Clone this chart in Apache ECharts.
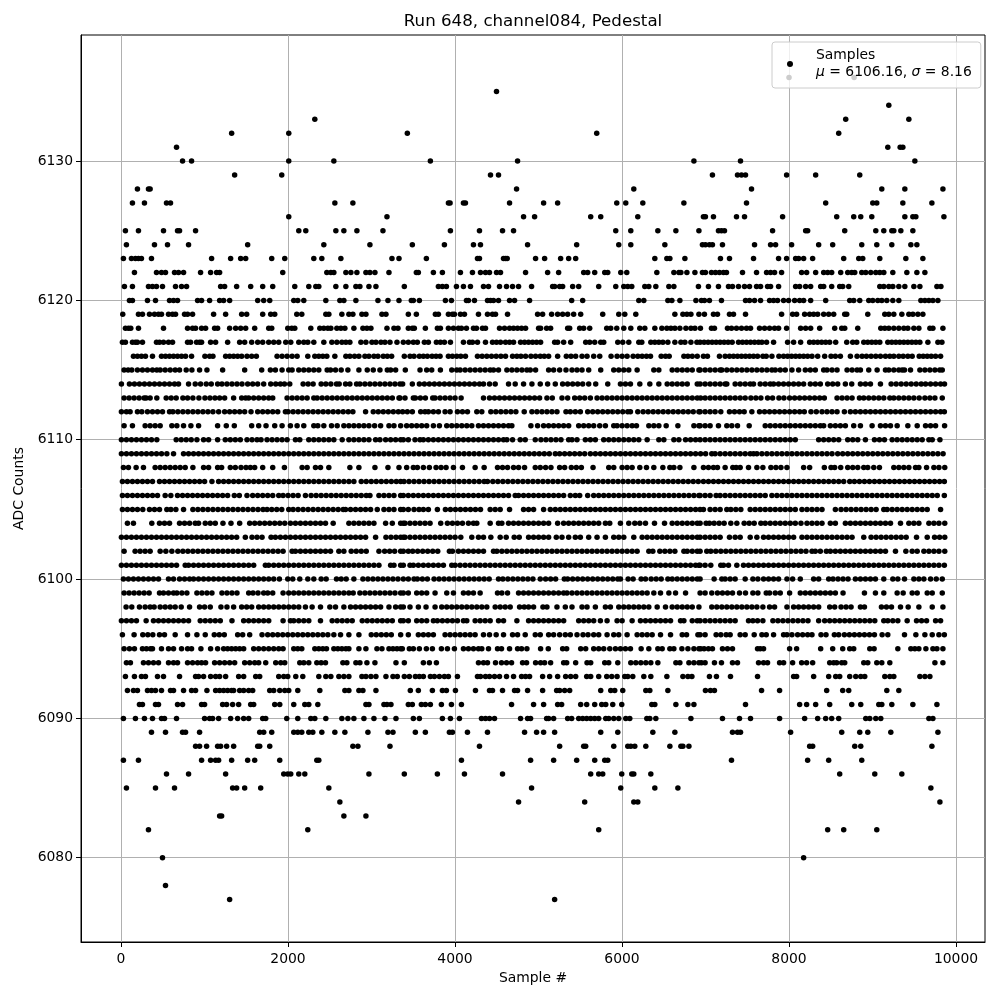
<!DOCTYPE html>
<html><head><meta charset="utf-8"><title>Pedestal</title>
<script src="https://cdn.jsdelivr.net/npm/echarts@6/dist/echarts.min.js"></script>
<style>html,body{margin:0;padding:0;background:#fff}#c{width:1000px;height:1000px}</style></head>
<body><div id="c"></div><script>
const xTicks=[0,2000,4000,6000,8000,10000];
const yTicks=[6080,6090,6100,6110,6120,6130];
const titleText='Run 648, channel084, Pedestal';
const c6136=[8000,8780];
const c6135=[4497];
const c6134=[9195];
const c6133=[2321,8679,9435];
const c6132=[1325,2009,3429,5697,8595];
const c6131=[665,9183,9331,9363];
const c6130=[737,845,2009,2549,3705,4749,6861,7419,9507];
const c6129=[1361,1925,4425,4521,7083,7383,7431,7479,7971,8319,8847];
const c6128=[197,329,349,4737,6141,7551,9111,9387,9843];
const c6127=[137,281,545,593,2561,2777,3921,3941,4101,4125,4653,5061,5229,5937,6045,6249,6741,7491,8439,9003,9051,9363,9711];
const c6126=[2009,3185,4821,4953,5625,5745,6189,6975,6999,7095,7371,7467,7923,8571,8775,8859,8991,9387,9483,9519,9855];
const c6125=[53,209,509,677,701,893,2129,2213,2573,2669,2825,3137,3945,4293,4569,4701,5925,6105,6429,6645,6921,7155,7191,7227,7803,8199,8223,8667,9039,9135,9231,9255,9339,9483];
const c6124=[65,401,557,809,1517,2429,2981,3489,3873,4221,4305,4869,5457,5961,6105,6513,6963,6999,7047,7083,7203,7587,7779,7839,8031,8355,8523,8871,9051,9231,9459,9531];
const c6123=[29,125,173,209,245,365,1085,1313,1433,1493,1805,1961,2309,2405,2633,3245,3329,3657,4269,4293,4581,4605,4625,4965,5073,5265,5361,5445,6393,6537,6573,6753,7179,7287,7575,7875,7971,8079,8115,8175,8283,8655,8835,8883,9087,9399,9603];
const c6122=[161,425,485,533,641,689,749,953,1073,1145,1181,1937,2465,2513,2549,2693,2753,2825,2933,2981,3041,3209,3537,3561,3741,3849,4065,4209,4305,4365,4413,4497,4545,4845,5109,5241,5541,5589,5673,5793,5829,5985,6057,6417,6621,6681,6705,6777,6873,6963,6999,7071,7119,7167,7215,7251,7443,7611,7731,7779,7827,7911,8151,8211,8319,8415,8463,8511,8619,8703,8751,8787,8871,8919,8979,9039,9087,9135,9243,9411,9531,9627];
const c6121=[41,137,329,377,425,497,653,725,785,1193,1241,1385,1553,1697,1817,2081,2249,2333,2369,2573,2693,2813,2861,2969,3053,3393,3801,3849,3897,4017,4101,4185,4341,4401,4533,4617,4689,4761,4917,5169,5193,5253,5289,5409,5481,5721,5925,6021,6069,6117,6273,6321,6405,6561,6621,6915,7035,7155,7275,7323,7395,7467,7527,7611,7659,7743,7779,7875,8079,8127,8199,8259,8379,8415,8511,8607,8643,8715,9087,9135,9195,9243,9315,9387,9495,9567,9771,9819];
const c6120=[101,137,317,413,581,629,677,917,965,1061,1181,1229,1301,1637,1709,1781,2069,2117,2189,2453,2621,2669,2813,3077,3197,3329,3477,3501,3573,3885,3957,4137,4161,4233,4389,4425,4461,4521,4653,4713,4893,5397,5529,6201,6261,6549,6597,6693,6885,6951,6987,7047,7191,7479,7527,7587,7659,7767,7815,7863,7935,7995,8067,8127,8175,8259,8439,8727,8775,8847,8955,9003,9063,9111,9171,9243,9315,9579,9627,9675,9723,9783];
const c6119=[21,209,257,341,401,449,485,569,617,653,761,797,857,1109,1253,1445,1505,1697,1793,1841,2105,2165,2453,2489,2645,2729,2777,2885,2933,3125,3173,3441,3537,3765,3801,3921,3969,3993,4065,4113,4281,4389,4449,4485,4629,4989,5049,5157,5229,5289,5349,5421,5505,5769,5961,6033,6165,6633,6729,6777,6825,6921,6987,7095,7143,7287,7335,7479,7911,8043,8091,8187,8247,8295,8343,8415,8475,8535,8667,8691,8943,9147,9195,9255,9351,9435,9483,9543,9603];
const c6118=[53,89,117,209,509,797,857,893,965,1013,1121,1157,1301,1373,1433,1493,1601,1769,1805,1997,2045,2081,2273,2381,2429,2477,2513,2585,2633,2681,2789,2897,2945,2993,3185,3269,3317,3441,3489,3513,3645,3789,3825,3921,3981,4041,4077,4137,4221,4257,4329,4365,4533,4593,4653,4701,4749,4797,4845,5001,5025,5097,5145,5349,5373,5493,5541,5613,5817,5865,5937,6021,6105,6213,6273,6393,6477,6537,6585,6633,6693,6765,6825,6873,6939,7071,7107,7263,7311,7371,7431,7491,7539,7647,7707,7767,7827,7875,7971,8139,8199,8259,8367,8547,8631,8667,8823,9099,9147,9195,9255,9315,9375,9423,9495,9555,9687,9723,9843];
const c6117=[17,53,137,173,197,257,425,461,509,569,617,797,833,905,941,965,1073,1133,1277,1421,1481,1565,1637,1697,1769,1829,1889,1973,2033,2129,2189,2237,2309,2429,2525,2585,2645,2693,2741,2873,2933,3005,3053,3113,3161,3221,3305,3381,3441,3501,3549,3633,3681,3777,3825,3873,3945,4101,4173,4209,4269,4365,4449,4497,4545,4605,4653,4701,4785,4833,4881,4929,4977,5025,5193,5229,5301,5385,5565,5613,5673,5745,5781,5949,6009,6081,6201,6237,6345,6393,6441,6489,6549,6633,6705,6753,6825,6897,6935,6983,7031,7079,7127,7175,7223,7271,7319,7395,7443,7491,7539,7587,7635,7675,7731,7815,7983,8055,8139,8247,8295,8343,8391,8439,8487,8559,8691,8763,8811,8895,8943,8991,9039,9087,9183,9231,9279,9327,9375,9423,9471,9519,9567,9663,9783,9831];
const c6116=[149,197,245,293,377,485,533,581,629,677,725,773,845,1005,1061,1101,1253,1301,1349,1397,1445,1509,1565,1621,1869,1929,1989,2049,2109,2237,2321,2369,2417,2465,2561,2693,2741,2797,2849,2921,2969,3029,3077,3141,3189,3241,3393,3461,3509,3573,3621,3669,3725,3773,3821,3921,3969,4021,4069,4125,4269,4325,4381,4437,4493,4549,4605,4689,4741,4789,4845,4909,4965,5021,5069,5121,5229,5333,5389,5445,5521,5581,5661,5733,5869,5941,6001,6061,6133,6189,6241,6293,6341,6469,6521,6565,6741,6789,6841,6901,6975,7023,7167,7235,7287,7335,7383,7431,7479,7527,7575,7623,7687,7727,7795,7879,7935,7983,8031,8079,8127,8175,8223,8275,8343,8427,8503,8555,8615,8735,8815,8875,8927,8983,9039,9095,9155,9207,9255,9315,9367,9423,9475,9559,9607,9655,9703,9755,9815];
const c6115=[37,85,129,197,257,317,377,429,469,529,589,649,701,781,849,941,1029,1217,1481,1685,1789,1849,1929,2009,2049,2129,2189,2249,2309,2369,2469,2509,2569,2637,2717,2849,2949,3021,3101,3189,3229,3289,3405,3581,3661,3721,3825,3961,4021,4061,4121,4181,4241,4301,4361,4421,4461,4521,4621,4681,4741,4801,4861,4901,4965,5121,5181,5253,5329,5401,5461,5521,5601,5745,5901,5961,6021,6081,6181,6381,6441,6601,6661,6721,6781,6841,6921,6935,6995,7055,7115,7175,7195,7255,7315,7375,7435,7495,7555,7615,7675,7735,7795,7835,7895,7955,8035,8115,8195,8255,8315,8415,8455,8515,8575,8695,8755,8815,8855,8955,9055,9155,9195,9255,9315,9355,9383,9455,9567,9627,9687,9747,9805,9835];
const c6114=[5,101,161,221,281,341,401,461,521,581,641,689,809,889,953,1021,1081,1157,1209,1269,1329,1389,1449,1517,1577,1637,1709,1793,1853,1909,1957,2021,2181,2241,2301,2397,2453,2513,2581,2613,2689,2741,2821,2861,2921,2981,3041,3101,3161,3221,3281,3341,3373,3489,3573,3633,3693,3753,3813,3873,3933,3993,4053,4113,4173,4233,4293,4341,4413,4481,4641,4721,4821,4921,5021,5109,5201,5289,5349,5409,5469,5529,5601,5685,5829,5981,6041,6101,6213,6333,6441,6541,6601,6661,6721,6781,6901,6935,6995,7055,7115,7175,7235,7255,7355,7415,7475,7535,7575,7655,7715,7775,7815,7875,7935,7995,8055,8115,8175,8255,8315,8375,8463,8523,8583,8675,8751,8855,8915,8975,9095,9223,9283,9343,9403,9463,9523,9583,9635,9695,9755,9815,9862];
const c6113=[37,97,157,217,277,301,349,429,541,601,661,741,797,861,933,1005,1065,1125,1181,1241,1349,1445,1493,1529,1589,1649,1709,1769,1817,1989,2049,2109,2169,2229,2309,2349,2409,2469,2529,2589,2649,2709,2769,2829,2889,2949,3009,3069,3129,3189,3249,3329,3341,3401,3501,3525,3585,3645,3733,3761,3821,3881,3941,4001,4073,4341,4413,4473,4533,4593,4653,4713,4773,4833,4893,4953,5013,5101,5165,5281,5349,5433,5493,5553,5621,5701,5761,5821,5881,5941,6001,6061,6121,6181,6241,6301,6361,6421,6481,6541,6601,6661,6721,6781,6841,6901,6941,6995,7055,7115,7175,7235,7295,7355,7415,7475,7543,7603,7663,7743,7803,7879,7939,8007,8067,8127,8187,8247,8307,8367,8423,8575,8635,8695,8755,8843,8895,8955,9015,9075,9135,9207,9255,9315,9375,9435,9495,9559,9627,9687,9747,9835];
const c6112=[5,65,109,197,249,317,377,437,497,581,621,681,741,801,861,921,981,1041,1101,1169,1241,1301,1361,1421,1481,1557,1637,1697,1757,1817,1877,1969,2001,2061,2121,2181,2241,2301,2361,2421,2481,2541,2601,2661,2721,2777,2929,3021,3081,3141,3201,3261,3321,3373,3429,3489,3589,3641,3681,3741,3801,3881,3941,4029,4089,4149,4261,4321,4429,4489,4549,4609,4669,4729,4829,4921,4981,5041,5101,5161,5221,5329,5381,5441,5501,5589,5649,5709,5769,5829,5889,5949,6009,6069,6101,6189,6253,6313,6373,6433,6493,6553,6613,6673,6733,6793,6853,6921,6935,6995,7055,7115,7183,7287,7347,7407,7463,7555,7647,7707,7767,7827,7887,7947,8007,8067,8127,8183,8263,8327,8395,8455,8515,8575,8663,8735,8795,8855,8915,8975,9035,9095,9155,9215,9275,9335,9395,9455,9515,9575,9635,9695,9755,9815,9860];
const c6111=[37,137,289,349,409,469,609,669,749,837,929,1157,1261,1357,1565,1649,1737,1841,1929,2029,2109,2189,2309,2357,2429,2521,2589,2669,2729,2789,2849,2909,2969,3037,3109,3209,3269,3349,3421,3481,3541,3601,3661,3741,3813,3901,3961,4021,4081,4141,4201,4281,4341,4401,4461,4521,4581,4641,4681,4909,4989,5061,5121,5181,5241,5301,5361,5481,5541,5601,5661,5733,5801,5901,5941,6001,6061,6121,6173,6321,6381,6441,6529,6669,6861,6921,6935,6995,7055,7155,7255,7315,7383,7523,7715,7775,7835,7895,7955,8015,8075,8135,8195,8255,8315,8375,8415,8495,8555,8615,8675,8775,8855,8995,9095,9155,9215,9295,9423,9535,9635,9695,9755,9863];
const c6110=[5,65,125,185,245,305,365,429,661,721,781,841,909,989,1049,1157,1249,1309,1369,1429,1509,1569,1629,1677,1749,1809,1869,1929,1989,2089,2141,2249,2309,2369,2429,2489,2549,2649,2729,2789,2849,2909,2969,3049,3101,3169,3229,3289,3349,3381,3441,3521,3581,3621,3681,3741,3801,3861,3921,3981,4041,4101,4161,4221,4281,4341,4401,4461,4521,4581,4621,4689,4781,4841,4961,5029,5089,5149,5209,5269,5361,5401,5461,5561,5621,5681,5781,5841,5901,5961,6021,6081,6141,6201,6301,6441,6501,6621,6681,6761,6821,6881,6935,6995,7055,7115,7175,7235,7295,7355,7415,7475,7535,7595,7655,7715,7775,7835,7895,7955,8015,8075,8355,8415,8475,8535,8595,8703,8763,8823,8915,9023,9083,9143,9235,9295,9355,9415,9475,9535,9595,9675,9715,9807];
const c6109=[5,65,125,185,245,305,365,425,485,549,629,749,809,869,929,989,1049,1109,1169,1229,1289,1349,1409,1469,1529,1589,1649,1709,1769,1829,1889,1949,2009,2069,2129,2189,2249,2309,2369,2429,2489,2549,2609,2669,2729,2789,2849,2909,2969,3029,3089,3149,3209,3269,3329,3389,3449,3509,3569,3629,3689,3749,3809,3869,3929,3989,4049,4109,4169,4229,4289,4349,4409,4469,4529,4589,4649,4709,4769,4829,4889,4949,5009,5069,5129,5201,5253,5313,5373,5433,5493,5553,5621,5681,5741,5801,5861,5921,5981,6041,6101,6161,6221,6281,6341,6401,6461,6521,6581,6641,6701,6761,6821,6881,6941,7001,7075,7115,7175,7235,7295,7355,7415,7475,7535,7575,7615,7675,7735,7795,7855,7915,7975,8035,8095,8155,8215,8275,8335,8395,8455,8515,8583,8643,8703,8763,8823,8883,8943,9003,9063,9123,9183,9243,9303,9363,9423,9483,9543,9603,9663,9723,9783,9845];
const c6108=[29,89,181,269,409,469,529,589,649,709,769,861,989,1049,1157,1205,1309,1369,1437,1497,1549,1601,1697,1817,1957,2169,2229,2329,2389,2489,2741,2849,3041,3197,3329,3421,3501,3549,3621,3693,3773,3833,3893,3981,4089,4241,4349,4509,4569,4629,4701,4761,4833,4961,5021,5085,5149,5253,5313,5393,5453,5513,5653,5841,5901,6001,6061,6121,6213,6293,6381,6489,6573,6621,6693,6861,6975,7035,7095,7143,7235,7327,7367,7415,7515,7615,7687,7783,7843,7903,7975,8175,8247,8423,8503,8547,8619,8703,8763,8823,8895,8943,9015,9083,9255,9315,9375,9435,9515,9555,9647,9735,9795,9865];
const c6107=[17,77,137,197,257,317,377,461,521,581,641,701,761,821,881,941,1001,1089,1169,1229,1289,1349,1409,1469,1529,1589,1649,1709,1769,1829,1889,1949,2009,2069,2129,2189,2249,2309,2369,2429,2489,2549,2609,2669,2729,2789,2877,2937,2997,3057,3117,3177,3237,3297,3349,3389,3449,3509,3569,3629,3689,3749,3809,3869,3929,3989,4049,4109,4169,4229,4289,4349,4389,4453,4513,4573,4633,4693,4753,4813,4873,4933,4993,5053,5113,5173,5233,5293,5353,5413,5473,5533,5593,5653,5713,5773,5833,5893,5953,6013,6073,6133,6193,6253,6313,6373,6433,6493,6553,6613,6673,6733,6793,6853,6913,6975,7035,7095,7155,7215,7275,7335,7395,7455,7515,7575,7635,7695,7755,7815,7875,7935,7995,8055,8115,8175,8235,8295,8355,8415,8475,8535,8595,8655,8727,8783,8843,8903,8963,9023,9083,9143,9203,9263,9323,9383,9443,9503,9563,9623,9683,9743,9803,9860];
const c6106=[17,77,137,197,257,317,377,437,529,597,677,737,797,857,917,977,1037,1097,1157,1217,1277,1357,1417,1509,1577,1637,1697,1757,1817,1889,1941,2001,2061,2121,2209,2277,2337,2397,2457,2517,2577,2637,2697,2757,2817,2877,2937,2981,3089,3149,3209,3269,3349,3381,3441,3501,3561,3621,3681,3741,3801,3861,3921,3981,4041,4101,4161,4221,4281,4341,4401,4461,4521,4581,4641,4721,4761,4821,4881,4941,5001,5061,5121,5181,5241,5301,5381,5441,5493,5589,5661,5721,5781,5841,5901,5961,6021,6081,6141,6201,6261,6321,6381,6441,6501,6561,6621,6681,6741,6801,6861,6921,6935,6995,7055,7127,7175,7235,7295,7355,7415,7475,7535,7595,7655,7715,7795,7855,7915,7975,8035,8095,8155,8215,8275,8335,8395,8455,8515,8575,8635,8695,8755,8815,8875,8935,8995,9055,9115,9175,9235,9295,9355,9415,9475,9535,9595,9655,9715,9775,9860];
const c6105=[17,77,137,197,261,341,401,461,549,597,657,749,861,921,981,1041,1101,1161,1221,1281,1341,1401,1461,1521,1581,1641,1701,1749,1805,1865,1925,2009,2061,2121,2181,2241,2301,2361,2421,2481,2541,2601,2661,2689,2749,2809,2869,2929,2989,3069,3149,3209,3269,3349,3381,3441,3509,3569,3621,3681,3789,3885,3945,4005,4065,4125,4185,4245,4305,4421,4481,4541,4653,4821,4881,4941,5061,5141,5201,5261,5321,5381,5441,5501,5561,5621,5681,5741,5801,5861,5921,5981,6041,6101,6161,6221,6281,6341,6401,6461,6521,6581,6641,6701,6761,6821,6881,6935,6975,7055,7115,7175,7255,7303,7363,7423,7535,7595,7655,7715,7775,7835,7895,7955,8015,8075,8155,8215,8275,8335,8395,8555,8623,8683,8743,8803,8863,8923,8983,9043,9135,9175,9235,9295,9355,9415,9475,9535,9595,9655,9815];
const c6104=[77,149,369,461,521,581,701,761,821,889,929,1009,1069,1129,1221,1317,1421,1541,1601,1661,1721,1781,1841,1901,1961,2029,2089,2149,2209,2269,2329,2389,2449,2541,2729,2789,2849,2909,2969,3029,3169,3249,3349,3381,3401,3461,3521,3581,3641,3701,3829,3909,3969,4029,4089,4161,4221,4261,4421,4521,4561,4641,4701,4761,4821,4881,4941,5001,5061,5121,5229,5301,5361,5421,5481,5541,5601,5661,5721,5801,5853,5981,6081,6153,6213,6281,6389,6509,6601,6661,6721,6781,6841,6901,6935,7007,7047,7103,7163,7223,7303,7375,7463,7523,7583,7663,7715,7775,7835,7895,7955,8015,8075,8143,8215,8275,8335,8395,8495,8555,8675,8735,8795,8855,8915,8975,9035,9095,9155,9215,9335,9435,9495,9555,9675,9735,9795,9865];
const c6103=[5,65,125,185,245,305,365,425,485,545,605,665,725,785,845,905,965,1025,1085,1145,1205,1265,1325,1385,1489,1569,1629,1689,1797,1849,1909,1969,2029,2089,2149,2209,2269,2329,2389,2449,2509,2569,2629,2689,2749,2809,2869,2929,3049,3173,3233,3293,3349,3381,3401,3461,3521,3581,3641,3701,3761,3821,3881,3941,4001,4069,4201,4281,4341,4429,4541,4613,4709,4769,4881,4941,5001,5061,5121,5213,5281,5361,5441,5501,5601,5701,5801,5901,5961,6021,6141,6241,6301,6361,6421,6481,6541,6601,6661,6721,6781,6841,6901,6935,6995,7055,7115,7175,7287,7355,7415,7535,7615,7695,7755,7815,7875,7935,7995,8055,8155,8215,8275,8335,8395,8455,8515,8575,8635,8695,8755,8895,8983,9043,9103,9163,9223,9283,9343,9403,9527,9655,9743,9803,9865];
const c6102=[37,169,229,289,349,469,537,609,681,741,801,861,921,981,1041,1101,1161,1221,1281,1341,1401,1461,1521,1581,1641,1701,1761,1821,1881,1941,2049,2089,2149,2209,2269,2329,2389,2449,2509,2609,2669,2757,2817,2877,2937,3089,3157,3217,3277,3349,3381,3441,3493,3553,3613,3673,3733,3793,3933,3969,4041,4101,4161,4221,4281,4341,4461,4501,4561,4621,4681,4741,4801,4861,4921,4981,5041,5101,5161,5221,5281,5341,5401,5461,5521,5581,5641,5701,5761,5821,5881,5941,6001,6061,6121,6181,6321,6369,6453,6513,6573,6633,6741,6781,6841,6901,6935,7015,7063,7123,7183,7243,7303,7363,7423,7483,7543,7603,7663,7723,7783,7843,7903,7963,8023,8083,8143,8203,8275,8315,8375,8447,8495,8555,8615,8675,8735,8795,8855,8915,8975,9035,9095,9155,9275,9399,9475,9535,9615,9675,9735,9795,9865];
const c6101=[5,65,125,185,245,305,365,425,485,545,605,665,769,809,869,929,989,1049,1109,1169,1229,1289,1349,1409,1469,1529,1589,1729,1769,1829,1889,1949,2009,2069,2129,2189,2249,2309,2369,2429,2489,2549,2609,2669,2729,2789,2849,2909,2969,3029,3089,3229,3269,3349,3381,3461,3501,3561,3621,3681,3741,3801,3861,3961,4001,4061,4121,4181,4241,4301,4361,4421,4481,4541,4601,4661,4721,4781,4841,4901,4961,5021,5081,5141,5201,5261,5321,5381,5441,5501,5561,5621,5681,5741,5801,5861,5921,5981,6041,6101,6161,6221,6281,6341,6401,6461,6521,6581,6641,6701,6761,6821,6881,6921,6935,6995,7063,7183,7215,7275,7375,7455,7515,7575,7635,7695,7755,7815,7875,7935,7995,8055,8115,8175,8235,8295,8355,8415,8475,8535,8595,8655,8715,8775,8835,8895,8955,9015,9075,9135,9195,9255,9315,9375,9435,9495,9555,9615,9675,9735,9795,9860];
const c6100=[29,89,149,209,269,329,389,449,569,629,701,761,821,869,929,989,1049,1109,1169,1229,1289,1349,1409,1469,1529,1589,1649,1709,1769,1829,1897,1997,2057,2141,2237,2309,2397,2457,2581,2637,2697,2789,2897,2957,3017,3077,3137,3197,3257,3317,3381,3441,3509,3549,3609,3669,3749,3809,3869,3929,3989,4049,4109,4169,4229,4289,4349,4409,4521,4573,4633,4693,4753,4813,4873,4933,5021,5085,5145,5205,5309,5349,5409,5469,5529,5589,5649,5709,5769,5829,5889,5949,5981,6073,6133,6229,6281,6349,6409,6469,6549,6601,6661,6721,6781,6841,6901,6935,7103,7195,7235,7295,7355,7475,7567,7627,7695,7755,7815,7875,7975,8043,8135,8295,8355,8475,8527,8587,8647,8707,8795,8855,8915,8975,9035,9135,9243,9303,9383,9495,9555,9615,9695,9763,9835];
const c6099=[37,97,157,217,277,337,461,509,569,629,669,729,789,909,969,1029,1089,1209,1269,1329,1389,1529,1581,1641,1709,1757,1817,1941,2009,2069,2129,2189,2249,2309,2369,2429,2489,2549,2609,2669,2729,2781,2861,2921,2981,3041,3101,3161,3221,3281,3349,3381,3441,3541,3601,3661,3761,3901,3981,4101,4161,4221,4301,4509,4561,4629,4761,4821,4881,4941,5001,5061,5121,5181,5241,5301,5341,5401,5461,5521,5581,5641,5701,5761,5821,5881,5941,6001,6061,6121,6181,6241,6301,6381,6461,6561,6641,6761,6935,6995,7075,7143,7203,7263,7323,7407,7479,7567,7627,7727,7767,7835,7895,8007,8135,8195,8255,8315,8375,8435,8495,8555,8647,8903,9035,9135,9295,9367,9475,9535,9655,9715,9835];
const c6098=[61,129,221,289,349,397,469,529,589,649,721,821,941,1001,1069,1197,1269,1349,1445,1505,1565,1649,1709,1769,1829,1889,1949,2009,2069,2129,2209,2289,2389,2501,2569,2669,2749,2809,2869,2929,2989,3049,3109,3209,3289,3349,3381,3461,3561,3653,3761,3841,3901,3961,4021,4081,4141,4201,4261,4321,4381,4481,4541,4601,4661,4773,4829,4881,4941,5053,5101,5221,5321,5401,5521,5581,5681,5801,5861,5961,6021,6081,6141,6201,6261,6321,6421,6521,6601,6661,6721,6781,6841,6921,7075,7135,7195,7255,7315,7375,7435,7495,7555,7615,7687,7767,7827,7975,8055,8115,8175,8235,8295,8355,8487,8547,8623,8683,8743,8855,8903,9107,9167,9227,9335,9427,9555,9715,9843];
const c6097=[5,65,125,185,301,389,449,509,569,629,689,749,809,949,1009,1069,1129,1189,1329,1469,1529,1589,1649,1709,1769,1941,2029,2069,2129,2189,2249,2389,2529,2589,2649,2709,2769,2889,2949,3009,3069,3129,3189,3249,3349,3381,3441,3541,3601,3661,3741,3789,3849,3909,3969,4029,4101,4141,4241,4301,4361,4421,4521,4581,4741,4881,4941,5001,5061,5121,5181,5241,5301,5481,5541,5601,5661,5741,5821,5941,6001,6121,6221,6281,6341,6401,6461,6521,6581,6701,6741,6841,6901,6935,6995,7055,7115,7175,7235,7295,7355,7515,7567,7623,7687,7807,7867,7927,7987,8047,8107,8167,8227,8355,8427,8487,8547,8607,8667,8727,8787,8847,8907,8967,9027,9135,9183,9243,9303,9415,9527,9587,9647,9755,9815];
const c6096=[17,157,261,321,381,461,521,649,797,909,1009,1117,1177,1237,1397,1457,1541,1689,1757,1817,1877,1937,1997,2057,2117,2177,2237,2297,2357,2417,2477,2549,2629,2729,2849,2997,3057,3117,3177,3237,3349,3441,3561,3621,3681,3741,3881,3941,4001,4061,4121,4181,4241,4341,4413,4493,4581,4689,4749,4841,4961,5021,5121,5181,5253,5321,5381,5461,5533,5593,5661,5721,5821,5901,5961,6061,6181,6241,6301,6361,6461,6581,6721,6773,6909,6935,6995,7127,7183,7247,7295,7415,7475,7583,7675,7727,7815,7935,7975,8035,8103,8163,8223,8275,8383,8443,8543,8595,8663,8723,8783,8843,8903,8963,9023,9115,9183,9383,9519,9627,9715,9795,9860];
const c6095=[37,101,161,257,305,353,377,485,569,629,725,797,845,957,1073,1157,1229,1277,1325,1373,1421,1469,1589,1649,1709,1769,1829,1889,1941,2069,2117,2165,2321,2369,2417,2461,2549,2597,2645,2693,2729,2849,2933,3065,3125,3209,3257,3305,3349,3369,3453,3501,3573,3657,3729,3837,3909,3993,4101,4161,4221,4281,4321,4401,4509,4557,4653,4749,4797,4861,5025,5117,5289,5337,5505,5565,5661,5721,5781,5853,5921,5981,6041,6101,6229,6321,6429,6481,6573,6621,6717,6789,6861,6921,6943,6983,7035,7083,7203,7263,7323,7623,7655,7695,8007,8091,8379,8523,8643,8727,8775,8967,9019,9303,9459,9507,9555,9639,9723,9771,9843];
const c6094=[65,113,269,329,389,449,569,629,677,797,857,917,965,1013,1121,1181,1241,1301,1361,1481,1541,1601,1649,1733,1853,1913,1961,2141,2189,2249,2345,2397,2449,2657,2705,2813,2861,2945,3041,3293,3393,3621,3693,3777,4281,4341,4389,4485,4557,4617,4677,4809,4857,4965,5025,5073,5145,5301,5337,5445,5581,5625,5793,5841,5949,6105,6165,6225,6285,6345,6429,6645,6693,6801,6861,6921,6951,6995,7107,7191,7323,7383,7635,7695,7743,7887,7935,8043,8151,8211,8283,8487,8535,8571,8631,8667,8895,8943,9051,9111,9207,9747,9843];
const c6093=[53,161,245,293,437,509,701,893,929,989,1073,1133,1181,1253,1409,1469,1613,1661,1889,1949,1997,2093,2177,2369,2453,2513,2609,2669,2729,2885,2933,2993,3053,3173,3257,3309,3393,3453,3525,3573,3621,3705,3753,3813,3873,3921,4029,4269,4305,4365,4413,4473,4533,4617,4701,4797,4845,4893,5049,5133,5229,5325,5385,5445,5577,5625,5721,5817,5877,5941,6033,6069,6129,6261,6345,6537,6729,6789,6837,7047,7131,7299,7623,8055,8091,8295,8475,8559,8607,8727,8799,8859,8907,9147,9207,9255,9567,9627,9687];
const c6092=[77,149,197,317,365,413,485,593,629,749,845,893,1029,1133,1181,1229,1277,1325,1349,1421,1469,1529,1577,1781,1829,1901,1961,2009,2117,2381,2681,2729,2849,2897,3053,3465,3561,3729,3849,3897,4005,4245,4413,4449,4569,4713,4749,4869,5049,5217,5253,5313,5373,5745,5865,5913,6009,6285,6333,6549,6999,7059,7107,7671,7887,8451,8643,8715,9171,9315];
const c6091=[221,257,413,449,677,737,965,1001,1217,1265,1337,1409,1553,1589,1841,1901,2069,2201,2249,2357,2933,2969,3149,3185,3233,3441,3489,3597,3645,3705,3837,3957,4077,4677,4941,5061,5229,5277,5505,5577,5673,5757,5805,5889,5997,6357,6393,6645,6789,6861,7479,8127,8211,8319,8487,8751,8859,9075,9111,9231,9483,9771];
const c6090=[29,173,281,377,485,521,665,1001,1061,1097,1169,1313,1397,1469,1529,1697,1733,1985,2117,2273,2321,2453,2645,2717,2789,2909,3029,3161,3293,3501,3573,3849,3945,4053,4317,4365,4413,4473,4785,4869,4905,5097,5121,5181,5349,5397,5481,5529,5577,5625,5673,5721,5805,5841,5901,5961,6045,6093,6297,6333,6405,6825,7203,7407,7539,7887,8187,8343,8439,8511,8595,8919,8967,9039,9099,9675,9723];
const c6089=[365,533,737,773,941,1661,1709,1805,2069,2117,2165,2249,2297,2405,2561,2681,2957,3197,3257,3525,3645,3933,3969,4149,4389,4833,4977,5061,5193,5745,5949,6369,6633,7323,7383,7419,8019,8631,8847,8943,9219,9783];
const c6088=[893,941,1025,1157,1193,1265,1349,1637,1661,1781,2777,2837,3221,4293,5253,5541,5565,5901,6069,6105,6153,6285,6573,6705,6729,6801,8247,8283,8787,8859,9711];
const c6087=[29,209,965,1073,1133,1169,1325,1517,1601,1901,2345,2369,4077,4905,5181,5457,5673,5793,5829,7311,8223,8475,8871];
const c6086=[545,809,1253,1949,1997,2033,2129,2201,2969,3393,3789,4113,4569,5625,5721,5769,5997,6117,6141,6345,8607,9027,9351];
const c6085=[65,413,641,1337,1385,1481,1673,2489,4917,5985,6393,6669,9699];
const c6084=[2621,4761,5553,6141,6189,9807];
const c6083=[1181,1205,2669,2933];
const c6082=[329,2237,5721,8463,8655,9051];
const c6080=[497,8175];
const c6078=[533];
const c6077=[1301,5193];
const rowLevels=[6136,6135,6134,6133,6132,6131,6130,6129,6128,6127,6126,6125,6124,6123,6122,6121,6120,6119,6118,6117,6116,6115,6114,6113,6112,6111,6110,6109,6108,6107,6106,6105,6104,6103,6102,6101,6100,6099,6098,6097,6096,6095,6094,6093,6092,6091,6090,6089,6088,6087,6086,6085,6084,6083,6082,6080,6078,6077];
const rowSamples=[c6136,c6135,c6134,c6133,c6132,c6131,c6130,c6129,c6128,c6127,c6126,c6125,c6124,c6123,c6122,c6121,c6120,c6119,c6118,c6117,c6116,c6115,c6114,c6113,c6112,c6111,c6110,c6109,c6108,c6107,c6106,c6105,c6104,c6103,c6102,c6101,c6100,c6099,c6098,c6097,c6096,c6095,c6094,c6093,c6092,c6091,c6090,c6089,c6088,c6087,c6086,c6085,c6084,c6083,c6082,c6080,c6078,c6077];
const points=[];rowLevels.forEach((y,i)=>rowSamples[i].forEach(x=>points.push([x,y])));
const chart=echarts.init(document.getElementById('c'));
const font='"DejaVu Sans"';
chart.setOption({animation:false,backgroundColor:'#fff',
 title:{text:titleText,left:528,top:8,textAlign:'center',textStyle:{fontFamily:font,fontSize:16.67,fontWeight:'normal',color:'#000'}},
 legend:{show:true,data:['Samples'],left:772,top:42,orient:'vertical',padding:[5,9,7,15],itemWidth:6,itemHeight:6,icon:'circle',
  backgroundColor:'rgba(255,255,255,0.8)',borderColor:'#cccccc',borderWidth:1,borderRadius:3,
  itemStyle:{color:'#000',opacity:1},
  formatter:()=>'Samples\n{i|μ} = 6106.16, {i|σ} = 8.16',
  textStyle:{fontFamily:font,fontSize:13.9,color:'#000',lineHeight:17,padding:[0,0,0,18],rich:{i:{fontFamily:font,fontStyle:'italic',fontSize:13.9,lineHeight:17,color:'#000'}}}},
 grid:{show:true,left:81,top:35,width:904,height:907,containLabel:false,borderColor:'#000',borderWidth:1,backgroundColor:'transparent'},
 xAxis:{type:'value',min:-479,max:10347,name:'Sample #',nameLocation:'middle',nameGap:29,nameTextStyle:{fontFamily:font,fontSize:13.9,color:'#000'},
  axisLine:{show:true,onZero:false,lineStyle:{color:'#000',width:1}},
  axisTick:{show:true,length:5,customValues:xTicks,lineStyle:{color:'#000',width:1}},
  axisLabel:{customValues:xTicks,formatter:v=>String(v),fontFamily:font,fontSize:13.9,color:'#000',margin:10},
  splitLine:{show:true,customValues:xTicks,lineStyle:{color:'#b0b0b0',width:1}}},
 yAxis:{type:'value',min:6073.95,max:6139.05,name:'ADC Counts',nameLocation:'middle',nameGap:42,nameTextStyle:{fontFamily:font,fontSize:13.9,color:'#000'},
  axisLine:{show:true,onZero:false,lineStyle:{color:'#000',width:1}},
  axisTick:{show:true,length:5,customValues:yTicks,lineStyle:{color:'#000',width:1}},
  axisLabel:{customValues:yTicks,formatter:v=>String(v),fontFamily:font,fontSize:13.9,color:'#000',margin:8},
  splitLine:{show:true,customValues:yTicks,lineStyle:{color:'#b0b0b0',width:1}}},
 series:[{name:'Samples',type:'scatter',data:points,symbolSize:5.5,itemStyle:{color:'#000',opacity:1},silent:true}]
});
</script></body></html>
